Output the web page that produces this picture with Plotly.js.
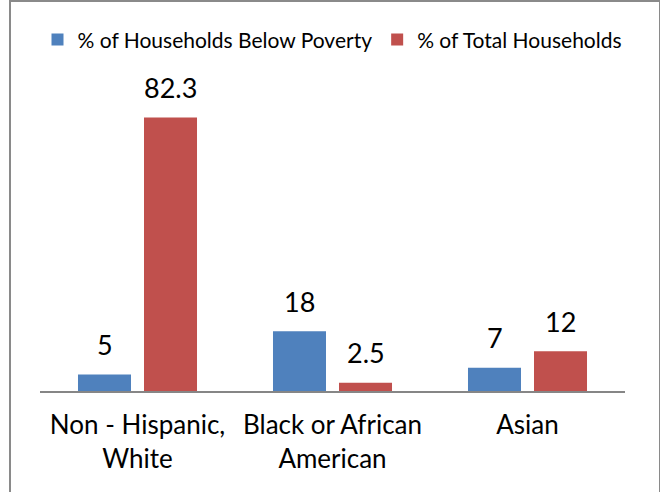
<!DOCTYPE html>
<html>
<head>
<meta charset="utf-8">
<script src="https://cdn.plot.ly/plotly-3.0.1.min.js"></script>
<style>
  html, body { margin: 0; padding: 0; background: #fff; }
  #wrap { position: relative; width: 660px; height: 492px; overflow: hidden; }
  #chart { width: 660px; height: 492px; }
  #frame { position: absolute; left: 9px; top: 0px; width: 648px; height: 500px; border: 2px solid #8a8a8a; pointer-events: none; }
</style>
</head>
<body>
<div id="wrap">
  <div id="chart"></div>
  <div id="frame"></div>
</div>
<script>
const categories = ["Non - Hispanic,<br>White", "Black or African<br>American", "Asian"];
const seriesNames = ["% of Households Below Poverty", "% of Total Households"];
const belowPoverty = [5, 18, 7];
const totalHouseholds = [82.3, 2.5, 12];
const labelsBelow = ["5", "18", "7"];
const labelsTotal = ["82.3", "2.5", "12"];

const FONT = "Lato, 'Open Sans', sans-serif";

const traces = [
  { type: "bar", name: seriesNames[0], x: categories, y: belowPoverty,
    marker: { color: "#4F81BD" }, hoverinfo: "none" },
  { type: "bar", name: seriesNames[1], x: categories, y: totalHouseholds,
    marker: { color: "#C0504D" }, hoverinfo: "none" }
];

const annotations = [];
categories.forEach((c, i) => {
  annotations.push({ x: c, y: belowPoverty[i], text: labelsBelow[i], xref: "x", yref: "y",
    showarrow: false, xshift: -33, yshift: 30, yanchor: "middle",
    font: { family: FONT, size: 27, color: "#000" } });
  annotations.push({ x: c, y: totalHouseholds[i], text: labelsTotal[i], xref: "x", yref: "y",
    showarrow: false, xshift: 33, yshift: 30, yanchor: "middle",
    font: { family: FONT, size: 27, color: "#000" } });
});

const layout = {
  width: 660, height: 492,
  margin: { l: 40, r: 35, t: 92, b: 101 },
  paper_bgcolor: "#fff", plot_bgcolor: "#fff",
  barmode: "group", bargap: 0.323, bargroupgap: 0.197,
  showlegend: true,
  legend: { orientation: "h", x: 0.5, xanchor: "center", xref: "paper",
    y: 1.174, yanchor: "middle", yref: "paper",
    font: { family: FONT, size: 21, color: "#000" },
    itemwidth: 30, tracegroupgap: 0 },
  xaxis: { showline: true, linecolor: "#868686", linewidth: 2,
    ticks: "outside", ticklen: 10, tickcolor: "rgba(0,0,0,0)",
    tickfont: { family: FONT, size: 26, color: "#000" },
    showgrid: false, zeroline: false, fixedrange: true },
  yaxis: { range: [0, 90], visible: false, showgrid: false, zeroline: false, fixedrange: true },
  annotations: annotations,
  font: { family: FONT }
};

Plotly.newPlot("chart", traces, layout, { displayModeBar: false, staticPlot: true });
</script>
</body>
</html>
